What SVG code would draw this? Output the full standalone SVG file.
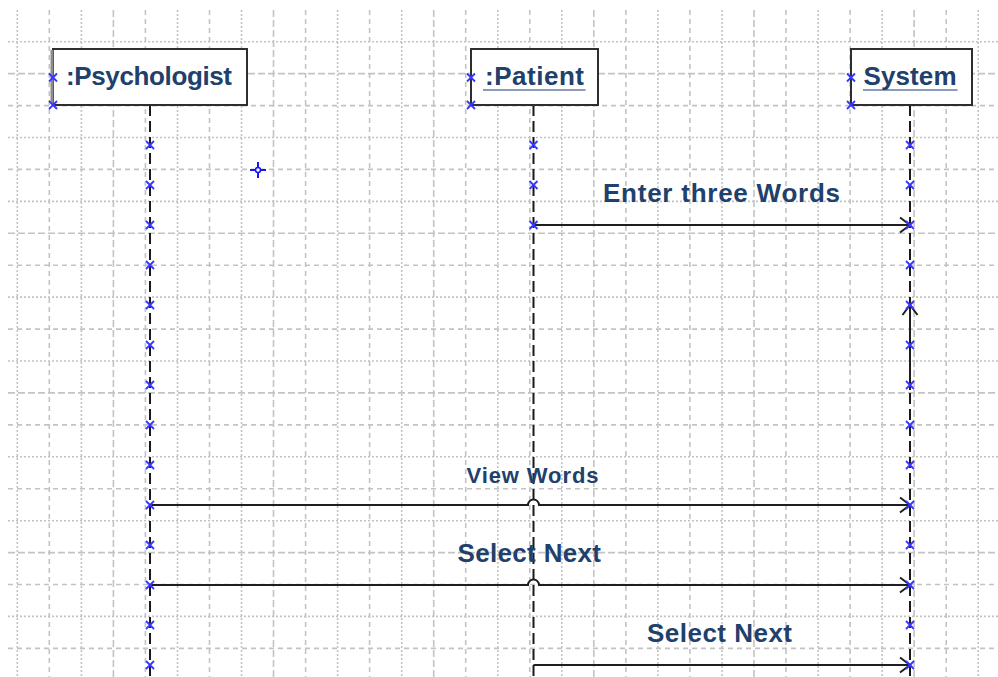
<svg xmlns="http://www.w3.org/2000/svg" xmlns:xlink="http://www.w3.org/1999/xlink" width="998" height="677" viewBox="0 0 998 677">
  <style>
    .g { fill: none; stroke: #c3c3c3; stroke-width: 1.6; }
    .dot { stroke-dasharray: 2 2; }
    .dsh { stroke-dasharray: 5 4; }
    .lng { stroke-dasharray: 7 3; }
    .box { fill: #ffffff; stroke: #2e2e2e; stroke-width: 2; }
    .life { fill: none; stroke: #1a1a1a; stroke-width: 2; stroke-dasharray: 11 5; }
    .msg { fill: none; stroke: #1e1e1e; stroke-width: 2; }
    .t { font-family: "Liberation Sans", Arial, sans-serif; font-weight: bold; fill: #21406c; }
    .uline { stroke: #8a9bbb; stroke-width: 2; }
    .xm { fill: none; stroke: #3636ff; stroke-width: 1.8; }
  </style>
  <defs>
    <path id="xm" d="M-4,-4L4,4M-4,4L4,-4"/>
    <marker id="open" viewBox="-12 -9 14 18" markerWidth="14" markerHeight="18" refX="0" refY="0" orient="auto" markerUnits="userSpaceOnUse" overflow="visible">
      <path d="M-10,-7.5L0,0L-10,7.5" fill="none" stroke="#1e1e1e" stroke-width="2"/>
    </marker>
  </defs>

  <rect width="998" height="677" fill="#ffffff"/>

  <!-- background grid -->
  <g id="grid">
    <g class="g">
      <line class="dot" x1="17.3" y1="10" x2="17.3" y2="677"/>
      <line class="dsh" x1="49.3" y1="10" x2="49.3" y2="677"/>
      <line class="dot" x1="81.4" y1="10" x2="81.4" y2="677"/>
      <line class="lng" x1="113.4" y1="10" x2="113.4" y2="677"/>
      <line class="dsh" x1="145.4" y1="10" x2="145.4" y2="677"/>
      <line class="dot" x1="177.5" y1="10" x2="177.5" y2="677"/>
      <line class="dsh" x1="209.5" y1="10" x2="209.5" y2="677"/>
      <line class="dot" x1="241.5" y1="10" x2="241.5" y2="677"/>
      <line class="lng" x1="273.5" y1="10" x2="273.5" y2="677"/>
      <line class="dsh" x1="305.6" y1="10" x2="305.6" y2="677"/>
      <line class="dot" x1="337.6" y1="10" x2="337.6" y2="677"/>
      <line class="dsh" x1="369.6" y1="10" x2="369.6" y2="677"/>
      <line class="dot" x1="401.7" y1="10" x2="401.7" y2="677"/>
      <line class="lng" x1="433.7" y1="10" x2="433.7" y2="677"/>
      <line class="dsh" x1="465.7" y1="10" x2="465.7" y2="677"/>
      <line class="dot" x1="497.8" y1="10" x2="497.8" y2="677"/>
      <line class="dsh" x1="529.8" y1="10" x2="529.8" y2="677"/>
      <line class="dot" x1="561.8" y1="10" x2="561.8" y2="677"/>
      <line class="lng" x1="593.8" y1="10" x2="593.8" y2="677"/>
      <line class="dsh" x1="625.9" y1="10" x2="625.9" y2="677"/>
      <line class="dot" x1="657.9" y1="10" x2="657.9" y2="677"/>
      <line class="dsh" x1="689.9" y1="10" x2="689.9" y2="677"/>
      <line class="dot" x1="722.0" y1="10" x2="722.0" y2="677"/>
      <line class="lng" x1="754.0" y1="10" x2="754.0" y2="677"/>
      <line class="dsh" x1="786.0" y1="10" x2="786.0" y2="677"/>
      <line class="dot" x1="818.1" y1="10" x2="818.1" y2="677"/>
      <line class="dsh" x1="850.1" y1="10" x2="850.1" y2="677"/>
      <line class="dot" x1="882.1" y1="10" x2="882.1" y2="677"/>
      <line class="lng" x1="914.1" y1="10" x2="914.1" y2="677"/>
      <line class="dsh" x1="946.2" y1="10" x2="946.2" y2="677"/>
      <line class="dot" x1="978.2" y1="10" x2="978.2" y2="677"/>

      <line class="dot" x1="8" y1="41.7" x2="998" y2="41.7"/>
      <line class="lng" x1="8" y1="73.6" x2="998" y2="73.6"/>
      <line class="dsh" x1="8" y1="105.6" x2="998" y2="105.6"/>
      <line class="dot" x1="8" y1="137.5" x2="998" y2="137.5"/>
      <line class="dsh" x1="8" y1="169.4" x2="998" y2="169.4"/>
      <line class="dot" x1="8" y1="201.4" x2="998" y2="201.4"/>
      <line class="lng" x1="8" y1="233.3" x2="998" y2="233.3"/>
      <line class="dsh" x1="8" y1="265.2" x2="998" y2="265.2"/>
      <line class="dot" x1="8" y1="297.1" x2="998" y2="297.1"/>
      <line class="dsh" x1="8" y1="329.1" x2="998" y2="329.1"/>
      <line class="dot" x1="8" y1="361.0" x2="998" y2="361.0"/>
      <line class="lng" x1="8" y1="392.9" x2="998" y2="392.9"/>
      <line class="dsh" x1="8" y1="424.9" x2="998" y2="424.9"/>
      <line class="dot" x1="8" y1="456.8" x2="998" y2="456.8"/>
      <line class="dsh" x1="8" y1="488.7" x2="998" y2="488.7"/>
      <line class="dot" x1="8" y1="520.7" x2="998" y2="520.7"/>
      <line class="lng" x1="8" y1="552.6" x2="998" y2="552.6"/>
      <line class="dsh" x1="8" y1="584.5" x2="998" y2="584.5"/>
      <line class="dot" x1="8" y1="616.4" x2="998" y2="616.4"/>
      <line class="dsh" x1="8" y1="648.4" x2="998" y2="648.4"/>
    </g>
  </g>

  <!-- lifeline heads and lifelines -->
  <g id="psychologist">
    <line class="life" x1="150" y1="105" x2="150" y2="677"/>
    <rect class="box" x="53" y="49" width="194" height="56"/>
    <line x1="52" y1="50" x2="52" y2="104" stroke="#8c8c8c" stroke-width="3"/>
    <text class="t" x="66" y="85" font-size="26" textLength="166">:Psychologist</text>
  </g>

  <g id="patient">
    <line class="life" x1="533.5" y1="105" x2="533.5" y2="677"/>
    <rect class="box" x="471" y="49" width="127" height="56"/>
    <line class="uline" x1="483" y1="90" x2="585.5" y2="90"/>
    <text class="t" x="485" y="85" font-size="26" textLength="99">:Patient</text>
  </g>

  <g id="system">
    <line class="life" x1="910" y1="105" x2="910" y2="677"/>
    <rect class="box" x="851" y="49" width="121" height="56"/>
    <line class="uline" x1="863" y1="90" x2="957.5" y2="90"/>
    <text class="t" x="863.5" y="85" font-size="26" textLength="93">System</text>
  </g>

  <!-- messages -->
  <g id="connectors">
    <path class="msg" d="M533.5,225H910" marker-end="url(#open)"/>
    <path class="msg" d="M910,390V305" marker-end="url(#open)"/>
    <path class="msg" d="M150,505H528A5.5,5.5 0 0 1 539,505H910" marker-end="url(#open)"/>
    <path class="msg" d="M150,585H528A5.5,5.5 0 0 1 539,585H910" marker-end="url(#open)"/>
    <path class="msg" d="M533.5,665H910" marker-end="url(#open)"/>
  </g>

  <g id="labels">
    <text class="t" x="603" y="201.5" font-size="26" textLength="237">Enter three Words</text>
    <text class="t" x="466.5" y="483" font-size="22" textLength="132">View Words</text>
    <text class="t" x="457.5" y="561.5" font-size="26" textLength="143.5">Select Next</text>
    <text class="t" x="647" y="642" font-size="26" textLength="145">Select Next</text>
  </g>

  <!-- connection point handles -->
  <g id="handles" class="xm">
    <use xlink:href="#xm" x="53" y="77.5"/>
    <use xlink:href="#xm" x="53" y="105"/>
    <use xlink:href="#xm" x="471" y="77.5"/>
    <use xlink:href="#xm" x="471" y="105"/>
    <use xlink:href="#xm" x="851" y="77.5"/>
    <use xlink:href="#xm" x="851" y="105"/>

    <use xlink:href="#xm" x="533.5" y="145"/>
    <use xlink:href="#xm" x="533.5" y="185"/>
    <use xlink:href="#xm" x="533.5" y="225"/>

    <use xlink:href="#xm" x="150" y="145"/>
    <use xlink:href="#xm" x="150" y="185"/>
    <use xlink:href="#xm" x="150" y="225"/>
    <use xlink:href="#xm" x="150" y="265"/>
    <use xlink:href="#xm" x="150" y="305"/>
    <use xlink:href="#xm" x="150" y="345"/>
    <use xlink:href="#xm" x="150" y="385"/>
    <use xlink:href="#xm" x="150" y="425"/>
    <use xlink:href="#xm" x="150" y="465"/>
    <use xlink:href="#xm" x="150" y="505"/>
    <use xlink:href="#xm" x="150" y="545"/>
    <use xlink:href="#xm" x="150" y="585"/>
    <use xlink:href="#xm" x="150" y="625"/>
    <use xlink:href="#xm" x="150" y="665"/>

    <use xlink:href="#xm" x="910" y="145"/>
    <use xlink:href="#xm" x="910" y="185"/>
    <use xlink:href="#xm" x="910" y="225"/>
    <use xlink:href="#xm" x="910" y="265"/>
    <use xlink:href="#xm" x="910" y="305"/>
    <use xlink:href="#xm" x="910" y="345"/>
    <use xlink:href="#xm" x="910" y="385"/>
    <use xlink:href="#xm" x="910" y="425"/>
    <use xlink:href="#xm" x="910" y="465"/>
    <use xlink:href="#xm" x="910" y="505"/>
    <use xlink:href="#xm" x="910" y="545"/>
    <use xlink:href="#xm" x="910" y="585"/>
    <use xlink:href="#xm" x="910" y="625"/>
    <use xlink:href="#xm" x="910" y="665"/>
  </g>

  <!-- insertion crosshair -->
  <g id="crosshair" fill="none" stroke="#1515ff" stroke-width="2">
    <path d="M250,170H255.5M260.5,170H266M258,162V167.5M258,172.5V178"/>
    <circle cx="258" cy="170" r="2.5" stroke-width="1.5"/>
  </g>
</svg>
